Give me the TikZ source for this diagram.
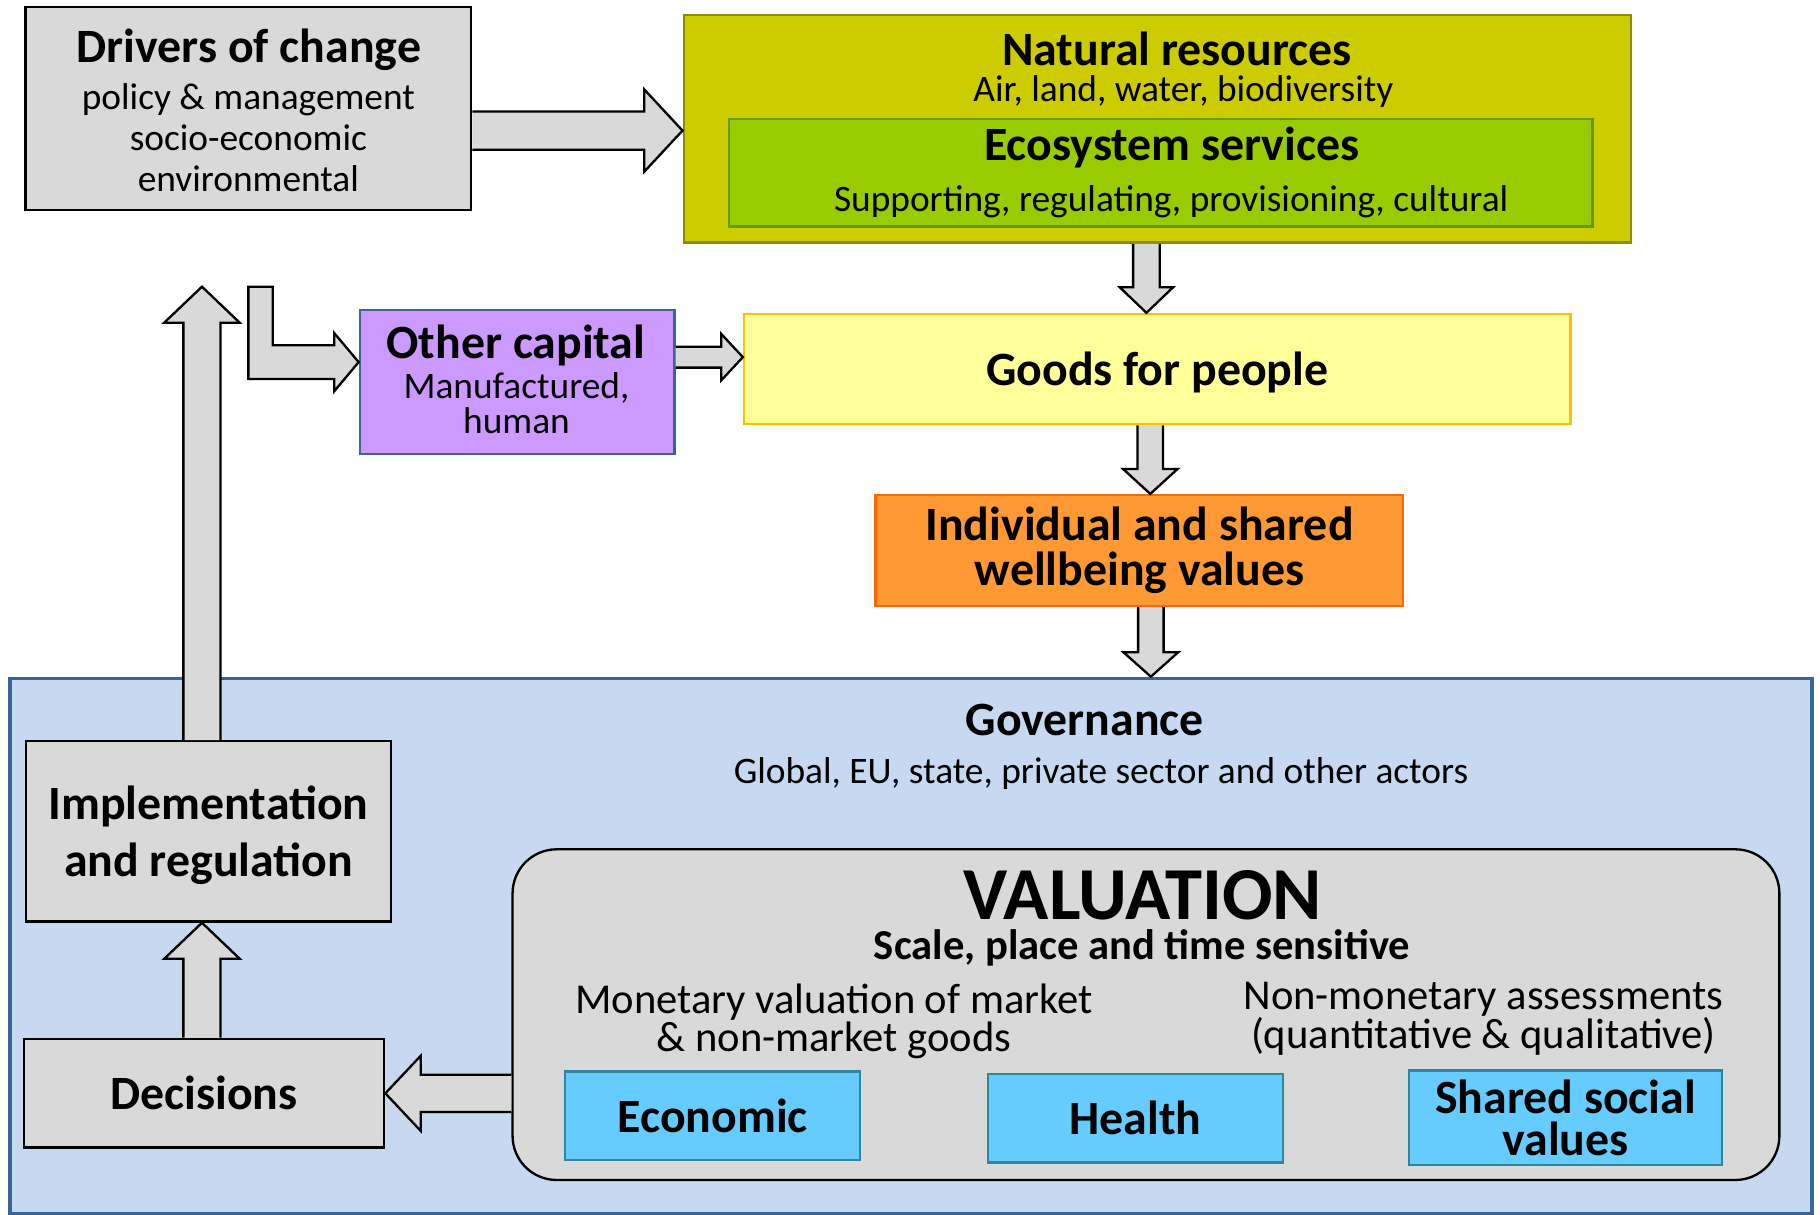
\documentclass[tikz,border=0pt]{standalone}
\usepackage{fontspec}
\setmainfont{Carlito}
\usetikzlibrary{calc}

\definecolor{boxgray}{HTML}{D9D9D9}
\definecolor{natfill}{HTML}{CCCC00}
\definecolor{natline}{HTML}{8C8C00}
\definecolor{ecofill}{HTML}{99CC00}
\definecolor{ecoline}{HTML}{669900}
\definecolor{goodsfill}{HTML}{FFFF99}
\definecolor{goodsline}{HTML}{FFC000}
\definecolor{capfill}{HTML}{CC99FF}
\definecolor{capline}{HTML}{3C6496}
\definecolor{wellfill}{HTML}{FF9933}
\definecolor{wellline}{HTML}{FF6600}
\definecolor{govfill}{HTML}{C6D9F1}
\definecolor{govline}{HTML}{3A6496}
\definecolor{valfill}{HTML}{66CCFF}
\definecolor{valline}{HTML}{31859C}

\tikzset{
  panel/.style={draw, line width=2pt, inner sep=0pt},
  hd/.style={font=\fontsize{41.2}{#1}\selectfont\bfseries, align=center, inner sep=0pt},
  hd/.default=44,
  tx/.style={font=\fontsize{32.2}{#1}\selectfont, align=center, inner sep=0pt},
  tx/.default=35,
  mid/.style={font=\fontsize{36.7}{#1}\selectfont, align=center, inner sep=0pt},
  mid/.default=34,
  fatarrow/.style={draw=black, fill=boxgray, line width=2pt, line join=miter},
  fatright/.style n args={3}{to path={let \p1=(\tikztostart), \p2=(\tikztotarget) in
    (\x1,\y1+#1) -- (\x2-#3,\y1+#1) -- (\x2-#3,\y1+#2) -- (\x2,\y1)
    -- (\x2-#3,\y1-#2) -- (\x2-#3,\y1-#1) -- (\x1,\y1-#1)}},
  fatleft/.style n args={3}{to path={let \p1=(\tikztostart), \p2=(\tikztotarget) in
    (\x1,\y1+#1) -- (\x2+#3,\y1+#1) -- (\x2+#3,\y1+#2) -- (\x2,\y1)
    -- (\x2+#3,\y1-#2) -- (\x2+#3,\y1-#1) -- (\x1,\y1-#1)}},
  fatdown/.style n args={3}{to path={let \p1=(\tikztostart), \p2=(\tikztotarget) in
    (\x1-#1,\y1) -- (\x1-#1,\y2+#3) -- (\x1-#2,\y2+#3) -- (\x1,\y2)
    -- (\x1+#2,\y2+#3) -- (\x1+#1,\y2+#3) -- (\x1+#1,\y1)}},
  fatup/.style n args={3}{to path={let \p1=(\tikztostart), \p2=(\tikztotarget) in
    (\x1-#1,\y1) -- (\x1-#1,\y2-#3) -- (\x1-#2,\y2-#3) -- (\x1,\y2)
    -- (\x1+#2,\y2-#3) -- (\x1+#1,\y2-#3) -- (\x1+#1,\y1)}}
}

\begin{document}
\begin{tikzpicture}[x=1pt, y=-1pt]
  \useasboundingbox (0,0) rectangle (1568,1046);

  % governance frame
  \node[panel, fill=govfill, draw=govline, line width=3pt, minimum width=1552.5, minimum height=461] (gov) at (784.75,815) {};
  \node[hd] (govtitle) at (934.5,620) {Governance};
  \node[tx] (govtext) at (948.5,666) {Global, EU, state, private sector and other actors};

  % top row
  \node[panel, fill=boxgray, minimum width=384, minimum height=175] (drivers) at (214,93.5) {};
  \node[hd] (drvtitle) at (214.5,43) {Drivers of change};
  \node[tx] (drvtext) at (214,118.5) {policy \& management\\socio-economic\\environmental};

  \node[panel, fill=natfill, draw=natline, minimum width=816, minimum height=196] (natural) at (997,111) {};
  \node[hd] (nattitle) at (1014,42) {Natural resources};
  \node[tx] (nattext) at (1019.5,79) {Air, land, water, biodiversity};
  \node[panel, fill=ecofill, draw=ecoline, minimum width=744, minimum height=92.5] (eco) at (1000,148.75) {};
  \node[hd] (ecotitle) at (1009.5,127) {Ecosystem services};
  \node[tx] (ecotext) at (1009,174) {Supporting, regulating, provisioning, cultural};

  % capital and goods
  \node[panel, fill=capfill, draw=capline, minimum width=271, minimum height=124] (other) at (445.5,329) {};
  \node[hd] (othtitle) at (444.5,298) {Other capital};
  \node[tx={30}] (othtext) at (445,347.5) {Manufactured,\\human};

  \node[panel, hd, text depth=0pt, fill=goodsfill, draw=goodsline, minimum width=712, minimum height=95] (goods) at (997,318) {Goods for people};
  \node[panel, hd={39}, fill=wellfill, draw=wellline, minimum width=454.6, minimum height=95.5] (wellbeing) at (981.7,474.25) {Individual and shared\\wellbeing values};

  % left column
  \node[panel, hd={49}, text depth=0pt, fill=boxgray, minimum width=314.7, minimum height=155.4] (impl) at (179.7,716.3) {Implementation\\and regulation};
  \node[panel, hd, fill=boxgray, minimum width=310.6, minimum height=93.7] (decisions) at (175.7,941.85) {Decisions};
  \coordinate (upEnd) at (174,247);
  \coordinate (bendTop) at (224.5,247);

  % valuation
  \node[panel, fill=boxgray, rounded corners=38pt, minimum width=1091.4, minimum height=284.9] (valuation) at (987.3,874.15) {};
  \node[font=\fontsize{64.4}{66}\selectfont\bfseries, inner sep=0pt] (valtitle) at (984.5,771) {VALUATION};
  \node[font=\fontsize{36.7}{40}\selectfont\bfseries, inner sep=0pt] (valsub) at (984,817) {Scale, place and time sensitive};
  \node[mid={31}] (monetary) at (718.5,880) {Monetary valuation of market\\\& non-market goods};
  \node[mid={34}] (nonmon) at (1278,877.5) {Non-monetary assessments\\(quantitative \& qualitative)};

  \node[panel, hd, fill=valfill, draw=valline, minimum width=254, minimum height=76.4] (economic) at (614,961.2) {Economic};
  \node[panel, hd, fill=valfill, draw=valline, minimum width=253.8, minimum height=76] (health) at (978.3,963.4) {Health};
  \node[panel, hd={36}, fill=valfill, draw=valline, minimum width=269.7, minimum height=81.2] (shared) at (1348.85,963) {Shared social\\values};

  % block arrows
  \draw[fatarrow] ($(drivers.east)+(0,19)$) to[fatright={16.5}{35.5}{33}] (natural.west);
  \draw[fatarrow] ($(natural.south)+(-9.3,0)$) to[fatdown={11.5}{23}{22}] (goods.north);
  \draw[fatarrow] ($(goods.south)+(-6,0)$) to[fatdown={11}{23.5}{21.5}] (wellbeing.north);
  \draw[fatarrow] ($(wellbeing.south)+(9.8,0)$) to[fatdown={11}{23.5}{21}] (gov.north);
  \draw[fatarrow] ($(other.east)+(0,-21.3)$) to[fatright={9}{20}{18.6}] (goods.west);
  \draw[fatarrow] ($(impl.north)+(-5.7,0)$) to[fatup={16}{32.5}{31}] (upEnd);
  \draw[fatarrow] ($(decisions.north)+(-1.7,0)$) to[fatup={16}{32.5}{31}] (impl.south);
  \draw[fatarrow] ($(valuation.west)+(0,67.8)$) to[fatleft={16}{32.4}{30.5}] (decisions.east);
  \draw[fatarrow] let \p1=(bendTop), \p2=($(other.west)+(0,-17)$) in
    (\x1-10.5,\y1) -- (\x1+10.5,\y1) -- (\x1+10.5,\y2+14.5) -- (\x2-21,\y2+14.5)
    -- (\x2-21,\y2+25) -- (\x2,\y2) -- (\x2-21,\y2-25) -- (\x2-21,\y2-14.5)
    -- (\x1-10.5,\y2-14.5) -- cycle;

\end{tikzpicture}
\end{document}
